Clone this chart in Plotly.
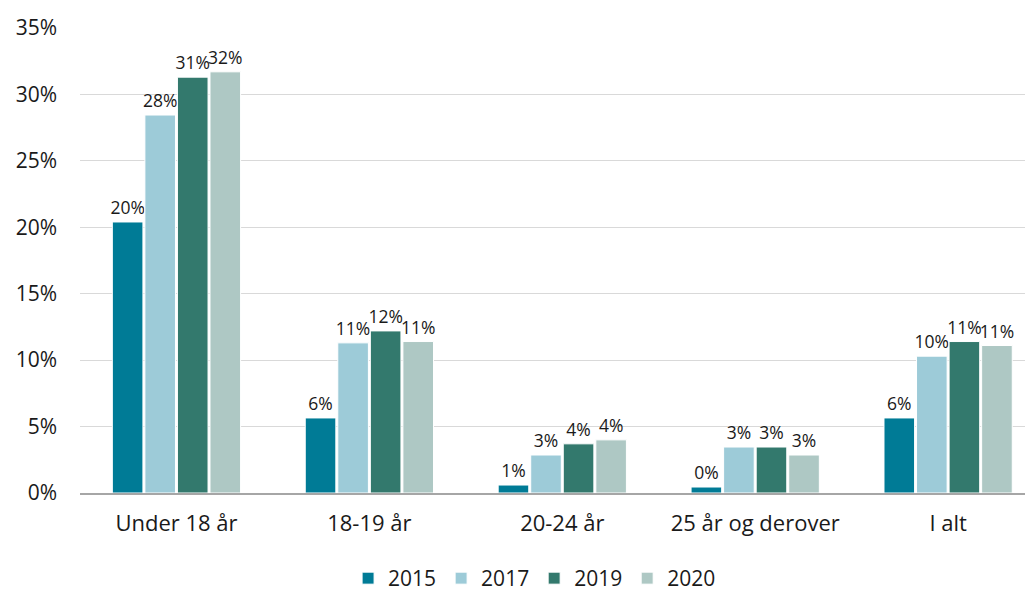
import plotly.graph_objects as go

categories = ["Under 18 år", "18-19 år", "20-24 år", "25 år og derover", "I alt"]
years = ["2015", "2017", "2019", "2020"]
v2015 = [0.204, 0.0565, 0.006, 0.0045, 0.0565]
v2017 = [0.2845, 0.113, 0.0286, 0.0346, 0.103]
v2019 = [0.313, 0.122, 0.037, 0.0346, 0.114]
v2020 = [0.317, 0.114, 0.040, 0.0286, 0.111]
colors = ["#007B96", "#9DCBD8", "#33796D", "#AEC8C4"]
tick_vals = [0, 0.05, 0.10, 0.15, 0.20, 0.25, 0.30, 0.35]

series = [v2015, v2017, v2019, v2020]
fig = go.Figure()
for name, vals, col in zip(years, series, colors):
    fig.add_trace(go.Bar(
        x=categories, y=vals, name=name,
        marker=dict(color=col, line=dict(color="white", width=1)),
        texttemplate="%{y:.0%}", textposition="outside",
        textfont=dict(size=17.5, color="#1a1a1a"),
        cliponaxis=False,
    ))

fig.update_layout(
    width=1025, height=586,
    margin=dict(l=72, r=0, t=20, b=101, autoexpand=False),
    plot_bgcolor="white", paper_bgcolor="white",
    font=dict(family="Open Sans, Noto Sans, sans-serif", color="#1a1a1a", size=21),
    barmode="group", bargap=0.325, bargroupgap=0.06,
    legend=dict(orientation="h", x=0.477, xanchor="center", y=-0.228, yanchor="bottom",
                font=dict(size=21), itemwidth=30, traceorder="normal"),
    uniformtext=dict(minsize=17, mode="show"),
)
fig.update_yaxes(range=[0, 0.35], tickvals=tick_vals, tickformat=".0%",
                 gridcolor="#D9D9D9", gridwidth=1, zeroline=False, automargin=False,
                 ticklabelstandoff=22, tickfont=dict(size=21), showline=False)
fig.update_xaxes(showline=True, linecolor="#A6A6A6", linewidth=1.5, automargin=False,
                 range=[-0.5, 4.44],
                 tickfont=dict(size=22), ticklabelstandoff=10, ticks="")

fig.write_html("out.html")
